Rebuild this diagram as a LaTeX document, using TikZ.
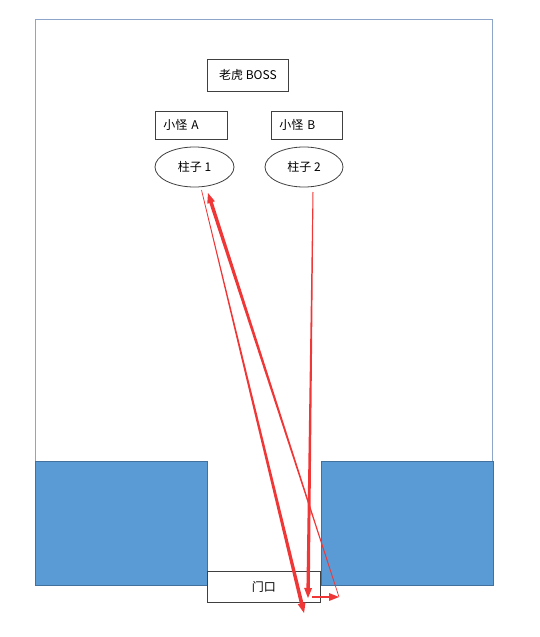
\documentclass[tikz,border=0pt]{standalone}
\usepackage{fontspec}
\setmainfont{Noto Sans CJK SC}
\usetikzlibrary{arrows.meta,shapes.geometric,calc}
\definecolor{wallblue}{RGB}{91,155,213}
\definecolor{walledge}{RGB}{65,113,156}
\definecolor{roomedge}{RGB}{140,165,200}
\definecolor{pathred}{RGB}{240,55,55}
\tikzset{
  lbl/.style={draw=black!75, line width=0.8pt, fill=white, font=\fontsize{12}{14}\selectfont, inner sep=0pt, anchor=north west},
  pillar/.style={draw=black!75, line width=0.8pt, ellipse, fill=white, font=\fontsize{12}{14}\selectfont},
  wall/.style={fill=wallblue, draw=walledge, line width=0.6pt},
}
% tapered arrow: start, tip, half-width at start, half-width at end
\newcommand{\taperarrow}[4]{%
  \coordinate (tbase) at ($(#2)!9pt!(#1)$);
  \fill[pathred] ($(#1)!#3!90:(#2)$) -- ($(tbase)!#4!-90:(#1)$) -- ($(tbase)!#4!90:(#1)$) -- ($(#1)!#3!-90:(#2)$) -- cycle;
  \coordinate (tbase2) at ($(#2)!10pt!(#1)$);
  \fill[pathred] (#2) -- ($(tbase2)!4pt!90:(#2)$) -- ($(tbase2)!4pt!-90:(#2)$) -- cycle;
}
\begin{document}
\begin{tikzpicture}[x=1pt,y=-1pt]
\useasboundingbox (0,0) rectangle (540,637);
% room
\draw[roomedge, line width=0.9pt] (35,585) -- (35,19) -- (492,19) -- (492,585);
% walls
\draw[wall] (35,461) rectangle (207,585);
\draw[wall] (321,461) rectangle (493,585);
% door
\node[draw=black!75, line width=0.8pt, fill=white, minimum width=113pt, minimum height=31pt, inner sep=0pt, anchor=north west, font=\fontsize{12}{14}\selectfont] (door) at (207,571) {门口};
% boss and minions
\node[lbl, minimum width=81pt, minimum height=32pt] (boss) at (207,59) {老虎 BOSS};
\node[lbl, minimum width=72pt, minimum height=28pt, text width=64pt, align=left] (mA) at (155,111) {\hspace*{4pt}小怪 A};
\node[lbl, minimum width=71pt, minimum height=28pt, text width=63pt, align=left] (mB) at (271,111) {\hspace*{4pt}小怪 B};
\node[pillar, minimum width=79pt, minimum height=40pt, inner sep=0pt] (p1) at (194.5,167) {柱子 1};
\node[pillar, minimum width=78pt, minimum height=40pt, inner sep=0pt] (p2) at (304,167) {柱子 2};
% path coordinates
\coordinate (a1) at (201.5,190);
\coordinate (a2) at (304,613);
\coordinate (b1) at (339,597);
\coordinate (b2) at (208,193);
\coordinate (c1) at (313,192);
\coordinate (c2) at (308,598);
\coordinate (h1) at (312,597);
% paths
\taperarrow{a1}{a2}{0.35pt}{1.8pt}
\taperarrow{b1}{b2}{0.35pt}{1.8pt}
\taperarrow{c1}{c2}{0.5pt}{1.7pt}
\taperarrow{h1}{b1}{1.1pt}{1.1pt}
\end{tikzpicture}
\end{document}
